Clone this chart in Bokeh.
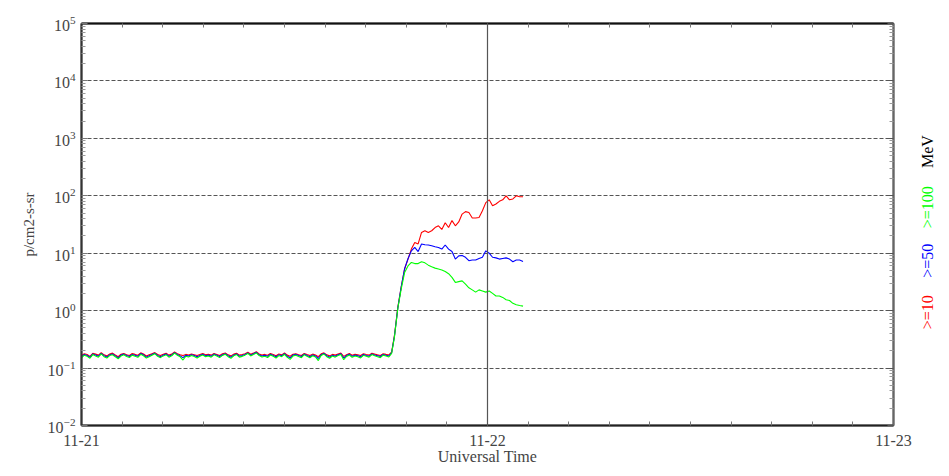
import math
from bokeh.plotting import figure
from bokeh.layouts import row
from bokeh.models import Range1d, FixedTicker, LogAxis, LinearAxis, Span, ColumnDataSource
from bokeh.core.properties import value
from bokeh.embed import file_html
from bokeh.resources import INLINE

# ---------------- data ----------------
# hours since 11-21 00:00 UT
t_base = [i / 6 for i in range(111)]          # 10-minute cadence, 0 .. 18.33 h
t_event = [18.5, 18.7, 18.9, 19.1, 19.3, 19.5, 19.7, 19.9, 20.1, 20.3,
           20.5, 20.7, 20.9, 21.1, 21.3, 21.5, 21.7, 21.9, 22.1, 22.3,
           22.5, 22.7, 22.9, 23.1, 23.3, 23.5, 23.7, 23.9, 24.1, 24.3,
           24.5, 24.7, 24.9, 25.1, 25.3, 25.5, 25.7, 25.9, 26.1]
hours = t_base + t_event

p10_base = [0.165, 0.178, 0.172, 0.160, 0.181, 0.175, 0.168, 0.185, 0.170, 0.163,
            0.176, 0.182, 0.169, 0.158, 0.174, 0.180, 0.171, 0.166, 0.179, 0.173,
            0.167, 0.184, 0.176, 0.162, 0.170, 0.178, 0.186, 0.172, 0.165, 0.174,
            0.181, 0.168, 0.175, 0.190, 0.178, 0.170, 0.166, 0.173, 0.169, 0.176,
            0.171, 0.165, 0.172, 0.179, 0.170, 0.174, 0.168, 0.180, 0.173, 0.166,
            0.177, 0.183, 0.170, 0.163, 0.175, 0.181, 0.168, 0.172, 0.178, 0.188,
            0.174, 0.182, 0.192, 0.176, 0.169, 0.173, 0.167, 0.179, 0.172, 0.164,
            0.176, 0.170, 0.183, 0.168, 0.161, 0.174, 0.178, 0.171, 0.166, 0.180,
            0.172, 0.165, 0.175, 0.169, 0.158, 0.177, 0.184, 0.170, 0.163, 0.173,
            0.168, 0.176, 0.182, 0.160, 0.171, 0.179, 0.167, 0.174, 0.170, 0.165,
            0.177, 0.172, 0.168, 0.181, 0.175, 0.170, 0.166, 0.178, 0.173, 0.169, 0.190]
p10_event = [0.37, 1.15, 2.6, 5.3, 7.9, 11.8, 15.4, 14.5, 23, 24.6,
             23, 24.6, 28, 30, 26, 34, 28, 37, 30, 35,
             48, 53, 51, 41, 41, 42, 55, 76, 85, 67,
             72, 80, 85, 100, 85, 88, 100, 96, 96]

p50_base = [0.158, 0.172, 0.166, 0.154, 0.176, 0.169, 0.161, 0.180, 0.164, 0.156,
            0.170, 0.176, 0.163, 0.151, 0.168, 0.175, 0.165, 0.159, 0.173, 0.167,
            0.160, 0.179, 0.170, 0.155, 0.164, 0.172, 0.182, 0.166, 0.158, 0.168,
            0.176, 0.161, 0.169, 0.186, 0.172, 0.163, 0.152, 0.167, 0.162, 0.170,
            0.165, 0.157, 0.166, 0.174, 0.164, 0.168, 0.161, 0.175, 0.167, 0.159,
            0.171, 0.178, 0.164, 0.155, 0.169, 0.176, 0.161, 0.166, 0.173, 0.184,
            0.168, 0.177, 0.188, 0.170, 0.162, 0.167, 0.160, 0.174, 0.166, 0.157,
            0.170, 0.164, 0.178, 0.161, 0.151, 0.168, 0.173, 0.165, 0.159, 0.175,
            0.166, 0.158, 0.169, 0.162, 0.147, 0.171, 0.179, 0.164, 0.155, 0.167,
            0.161, 0.170, 0.177, 0.150, 0.165, 0.174, 0.160, 0.168, 0.164, 0.157,
            0.172, 0.166, 0.161, 0.176, 0.169, 0.164, 0.159, 0.173, 0.167, 0.162, 0.185]
p50_event = [0.36, 1.12, 2.6, 5.4, 8.0, 11.0, 12.6, 10.7, 14.5, 14.0,
             13.9, 13.5, 13.0, 12.6, 11.8, 13.9, 11.8, 10.7, 7.9, 9.0,
             9.1, 8.5, 7.4, 7.6, 7.6, 8.1, 8.5, 11.0, 10.0, 8.5,
             8.3, 7.9, 8.1, 8.3, 7.9, 7.1, 7.6, 7.6, 7.2]

p100_base = [0.150, 0.168, 0.160, 0.148, 0.172, 0.163, 0.155, 0.176, 0.158, 0.150,
             0.165, 0.171, 0.157, 0.145, 0.162, 0.170, 0.159, 0.153, 0.168, 0.161,
             0.154, 0.174, 0.164, 0.149, 0.158, 0.167, 0.178, 0.160, 0.152, 0.163,
             0.171, 0.155, 0.164, 0.182, 0.167, 0.157, 0.138, 0.161, 0.156, 0.165,
             0.159, 0.150, 0.161, 0.169, 0.158, 0.163, 0.155, 0.170, 0.162, 0.152,
             0.166, 0.174, 0.158, 0.148, 0.164, 0.172, 0.155, 0.160, 0.168, 0.180,
             0.163, 0.172, 0.184, 0.165, 0.156, 0.161, 0.153, 0.169, 0.160, 0.150,
             0.165, 0.158, 0.174, 0.154, 0.142, 0.162, 0.168, 0.159, 0.152, 0.171,
             0.160, 0.151, 0.164, 0.156, 0.135, 0.166, 0.175, 0.158, 0.148, 0.162,
             0.155, 0.165, 0.173, 0.140, 0.159, 0.169, 0.154, 0.163, 0.158, 0.150,
             0.167, 0.161, 0.155, 0.172, 0.164, 0.158, 0.152, 0.168, 0.162, 0.156, 0.180]
p100_event = [0.35, 1.10, 2.4, 4.6, 6.0, 6.9, 6.6, 6.6, 7.1, 6.8,
              6.2, 5.8, 5.5, 5.3, 5.1, 4.8, 4.4, 3.8, 3.1, 3.2,
              3.3, 2.9, 2.5, 2.3, 2.1, 2.3, 2.2, 2.1, 2.2, 2.0,
              1.8, 1.8, 1.7, 1.55, 1.5, 1.34, 1.27, 1.23, 1.2]

p10 = p10_base + p10_event
p50 = p50_base + p50_event
p100 = p100_base + p100_event

x_tick_pos = [0, 24, 48]
x_tick_labels = ["11-21", "11-22", "11-23"]
y_decades = [-2, -1, 0, 1, 2, 3, 4, 5]
legend_text = [">=10", ">=50", ">=100", "MeV"]
legend_color = ["#ff0000", "#0000ff", "#00ff00", "black"]
legend_level = [0.94, 7.4, 63, 590]      # vertical placement, in the y-axis units

FONT = "Liberation Serif"
Y_LO, Y_HI = 10.0 ** y_decades[0], 10.0 ** y_decades[-1]

# ---------------- main figure ----------------
p = figure(frame_width=812, frame_height=402,
           x_range=Range1d(0, 48), y_range=Range1d(Y_LO, Y_HI),
           y_axis_type="log", output_backend="svg", toolbar_location=None,
           min_border_left=81, min_border_right=19, min_border_top=23, min_border_bottom=49,
           background_fill_color="white", border_fill_color="white")
p.outline_line_color = "black"
p.outline_line_width = 1.5

y_major = [10.0 ** d for d in y_decades]
y_minor = [k * 10.0 ** d for d in y_decades[:-1] for k in range(2, 10)]
x_minor = [i * 2.4 for i in range(21)]

# bottom axis
xa = p.xaxis[0]
xa.ticker = FixedTicker(ticks=x_tick_pos, minor_ticks=x_minor)
xa.major_label_overrides = {k: v for k, v in zip(x_tick_pos, x_tick_labels)}
xa.axis_label = "Universal Time"
xa.axis_label_text_font = FONT
xa.axis_label_text_font_size = "16px"
xa.axis_label_text_font_style = "normal"
xa.axis_label_standoff = -1
xa.major_label_text_font = FONT
xa.major_label_text_font_size = "16px"
xa.major_label_standoff = 9
xa.major_tick_in = 0
xa.major_tick_out = 0
xa.minor_tick_in = 4
xa.minor_tick_out = 0
xa.minor_tick_line_color = "#777777"
xa.axis_line_width = 2
xa.axis_line_color = "#222222"

# left axis
ya = p.yaxis[0]
ya.ticker = FixedTicker(ticks=y_major, minor_ticks=y_minor)
ya.axis_label = "p/cm2-s-sr"
ya.axis_label_text_font = FONT
ya.axis_label_text_font_size = "15px"
ya.axis_label_text_font_style = "normal"
ya.axis_label_standoff = 8
ya.major_label_text_font = FONT
ya.major_label_text_font_size = "16px"
ya.major_label_standoff = 6
ya.major_tick_in = 6
ya.major_tick_out = 0
ya.major_tick_line_color = "#777777"
ya.minor_tick_in = 4
ya.minor_tick_out = 0
ya.minor_tick_line_color = "#999999"
ya.axis_line_width = 2
ya.axis_line_color = "#333333"

# right mirror axis (ticks only; labels not drawn)
ra = LogAxis(ticker=FixedTicker(ticks=y_major, minor_ticks=y_minor),
             major_label_text_color=None, major_label_text_font_size="1px",
             major_label_standoff=0,
             major_tick_in=6, major_tick_out=0, minor_tick_in=4, minor_tick_out=0,
             major_tick_line_color="#555555", minor_tick_line_color="#999999",
             axis_line_width=2, axis_line_color="#666666")
p.add_layout(ra, "right")

# top mirror axis (ticks only; labels not drawn)
ta = LinearAxis(ticker=FixedTicker(ticks=x_tick_pos, minor_ticks=x_minor),
                major_label_text_color=None, major_label_text_font_size="1px",
                major_label_standoff=0,
                major_tick_in=0, major_tick_out=0, minor_tick_in=4, minor_tick_out=0,
                minor_tick_line_color="#777777", axis_line_width=2, axis_line_color="#111111")
p.add_layout(ta, "above")

# grid
p.xgrid.visible = False
p.ygrid.ticker = FixedTicker(ticks=y_major[1:-1])
p.ygrid.grid_line_color = "#555555"
p.ygrid.grid_line_dash = "4 2"
p.ygrid.grid_line_width = 1

# day marker
p.add_layout(Span(location=x_tick_pos[1], dimension="height", line_color="#555555", line_width=1.2))

# series
p.line(hours, p10, line_color="#ff0000", line_width=1.1)
p.line(hours, p50, line_color="#0000ff", line_width=1.1)
p.line(hours, p100, line_color="#00ff00", line_width=1.1)

# ---------------- vertical legend strip ----------------
lg = figure(width=30, height=474, x_range=Range1d(0, 1), y_range=Range1d(Y_LO, Y_HI),
            y_axis_type="log", x_axis_location=None, y_axis_location=None,
            output_backend="svg", toolbar_location=None,
            min_border_left=0, min_border_right=0, min_border_top=23, min_border_bottom=49,
            background_fill_color="white", border_fill_color="white")
lg.outline_line_color = None
lg.grid.visible = False
src = ColumnDataSource(dict(x=[0.5] * len(legend_text), y=legend_level,
                            text=legend_text, color=legend_color))
lg.text(x="x", y="y", text="text", text_color="color", source=src,
        angle=math.pi / 2, text_font=value(FONT), text_font_size=value("16px"),
        text_align="center", text_baseline="middle")

layout = row(p, lg, spacing=0)
open("out.html", "w").write(file_html(layout, INLINE))
